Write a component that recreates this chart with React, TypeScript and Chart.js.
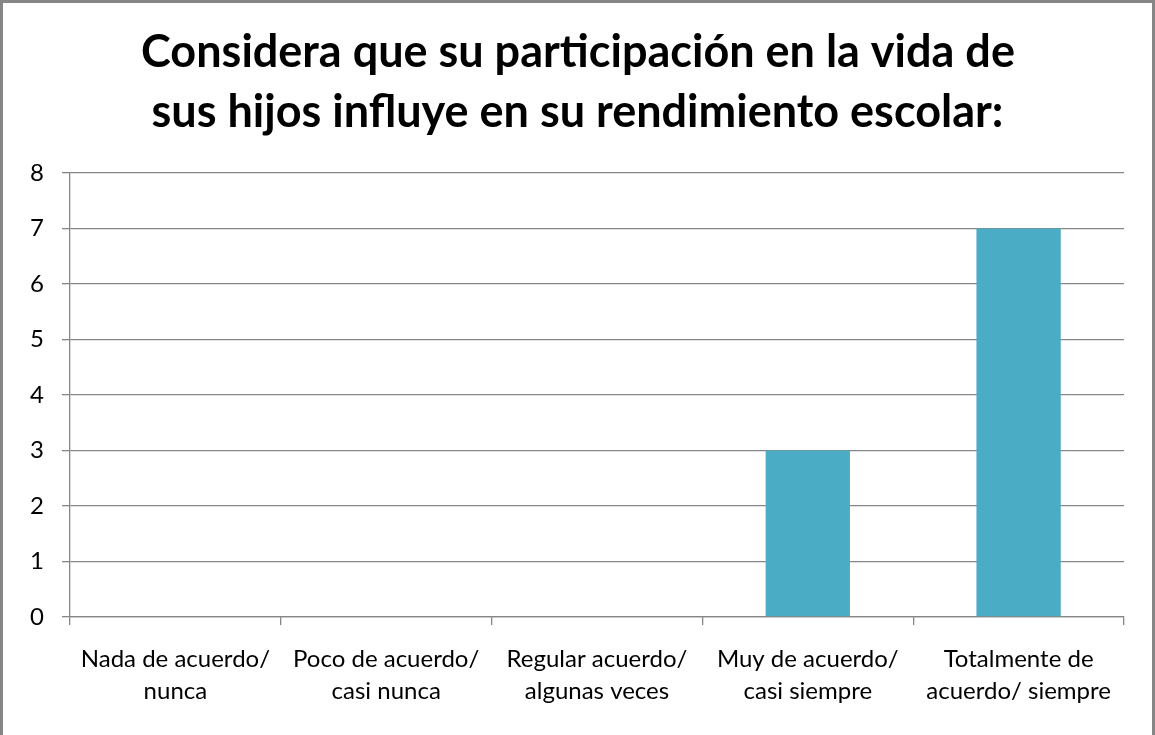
import React, { useEffect, useRef } from "react";
import { Chart, registerables } from "chart.js";

Chart.register(...registerables);

const titleLines = [
  "Considera que su participación en la vida de",
  "sus hijos influye en su rendimiento escolar:",
];
const categories = [
  ["Nada de acuerdo/", "nunca"],
  ["Poco de acuerdo/", "casi nunca"],
  ["Regular acuerdo/", "algunas veces"],
  ["Muy de acuerdo/", "casi siempre"],
  ["Totalmente de", "acuerdo/ siempre"],
];
const values = [0, 0, 0, 3, 7];
const yMin = 0;
const yMax = 8;
const yStep = 1;

const W = 1155;
const H = 735;
const FONT = "Lato, 'Open Sans', sans-serif";

export default function App() {
  const ref = useRef<HTMLCanvasElement | null>(null);

  useEffect(() => {
    document.body.style.margin = "0";
    const canvas = ref.current;
    if (!canvas) return;

    const framePlugin = {
      id: "frame",
      beforeDraw(chart: any) {
        const ctx = chart.ctx;
        ctx.save();
        ctx.fillStyle = "#ffffff";
        ctx.fillRect(0, 0, W, H);
        ctx.restore();
      },
      afterDraw(chart: any) {
        const ctx = chart.ctx;
        ctx.save();
        ctx.strokeStyle = "#868686";
        ctx.lineWidth = 3;
        ctx.beginPath();
        ctx.moveTo(1.5, H);
        ctx.lineTo(1.5, 1.5);
        ctx.lineTo(W - 1.5, 1.5);
        ctx.lineTo(W - 1.5, H);
        ctx.stroke();
        ctx.fillStyle = "#000000";
        ctx.font = `bold 45px ${FONT}`;
        ctx.textAlign = "center";
        ctx.textBaseline = "alphabetic";
        ctx.fillText(titleLines[0], W / 2 + 0.5, 67);
        ctx.fillText(titleLines[1], W / 2, 127);
        ctx.restore();
      },
    };

    const chart = new Chart(canvas, {
      type: "bar",
      data: {
        labels: categories,
        datasets: [
          {
            data: values,
            backgroundColor: "#4BACC6",
            borderWidth: 0,
            barPercentage: 0.4,
            categoryPercentage: 1,
          },
        ],
      },
      options: {
        responsive: false,
        animation: false,
        layout: { padding: { left: 0, right: 31, top: 173, bottom: 0 } },
        plugins: {
          legend: { display: false },
          title: { display: false },
          tooltip: { enabled: false },
        },
        scales: {
          x: {
            afterFit(scale: any) {
              scale.height = H - 617;
            },
            grid: {
              offset: true,
              drawOnChartArea: false,
              drawTicks: true,
              tickLength: 8,
              color: "#868686",
              lineWidth: 1.3,
            },
            border: { display: true, color: "#868686", width: 1.3 },
            ticks: {
              color: "#000000",
              font: { family: FONT, size: 24, lineHeight: 1.33 },
              padding: 18,
              maxRotation: 0,
              minRotation: 0,
              autoSkip: false,
            },
          },
          y: {
            min: yMin,
            max: yMax,
            afterFit(scale: any) {
              scale.width = 70;
            },
            grid: {
              drawTicks: true,
              tickLength: 8,
              color: "#868686",
              lineWidth: 1.3,
            },
            border: { display: true, color: "#868686", width: 1.3 },
            ticks: {
              stepSize: yStep,
              color: "#000000",
              font: { family: FONT, size: 24 },
              padding: 18,
            },
          },
        },
      },
      plugins: [framePlugin],
    });

    return () => chart.destroy();
  }, []);

  return (
    <div style={{ position: "absolute", left: 0, top: 0, width: W, height: H }}>
      <canvas ref={ref} width={W} height={H} style={{ display: "block", width: W, height: H }} />
    </div>
  );
}
